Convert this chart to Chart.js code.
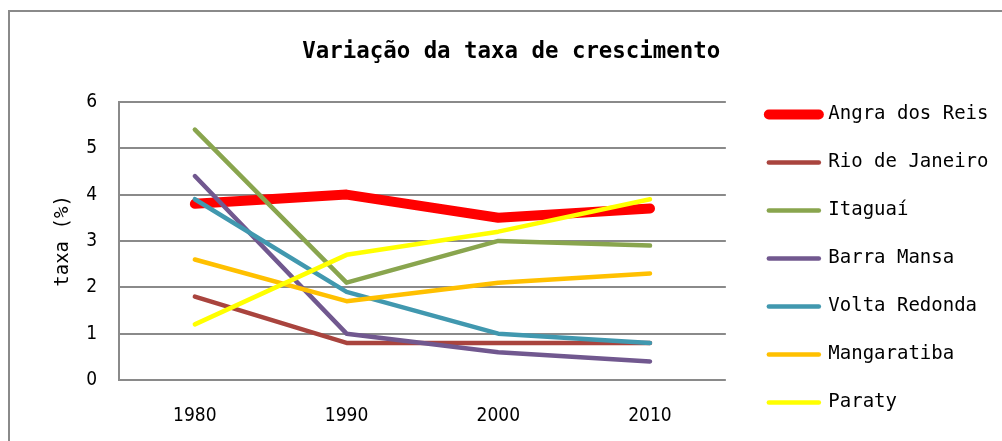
<!DOCTYPE html>
<html>
<head>
<meta charset="utf-8">
<script src="https://cdn.jsdelivr.net/npm/chart.js@4/dist/chart.umd.min.js"></script>
<style>
  html, body { margin: 0; padding: 0; background: #fff; }
  #wrap { position: relative; width: 1002px; height: 441px; overflow: hidden; }
  #frame { position: absolute; left: 8px; top: 10px; width: 1100px; height: 600px;
           border: 2px solid #8a8a8a; box-sizing: border-box; }
  canvas { position: absolute; left: 0; top: 0; }
</style>
</head>
<body>
<div id="wrap">
  <div id="frame"></div>
  <canvas id="c" width="1002" height="441"></canvas>
</div>
<script>
const categories = ['1980', '1990', '2000', '2010'];
const seriesNames = ['Angra dos Reis', 'Rio de Janeiro', 'Itaguaí', 'Barra Mansa', 'Volta Redonda', 'Mangaratiba', 'Paraty'];
const angraDosReis  = [3.8, 4.0, 3.5, 3.7];
const rioDeJaneiro  = [1.8, 0.8, 0.8, 0.8];
const itaguai       = [5.4, 2.1, 3.0, 2.9];
const barraMansa    = [4.4, 1.0, 0.6, 0.4];
const voltaRedonda  = [3.9, 1.9, 1.0, 0.8];
const mangaratiba   = [2.6, 1.7, 2.1, 2.3];
const paraty        = [1.2, 2.7, 3.2, 3.9];
const yTicks = [0, 1, 2, 3, 4, 5, 6];

const seriesValues = [angraDosReis, rioDeJaneiro, itaguai, barraMansa, voltaRedonda, mangaratiba, paraty];
const colors = ['#FF0000', '#A9443E', '#89A54E', '#71588F', '#4198AF', '#FFC000', '#FFFF00'];
const widths = [10, 4.5, 4.5, 4.5, 4.5, 4.5, 4.5];

const datasets = seriesNames.map((name, i) => ({
  label: name,
  data: seriesValues[i],
  yAxisID: 'y',
  xAxisID: 'x',
  borderColor: colors[i],
  backgroundColor: colors[i],
  borderWidth: widths[i],
  borderCapStyle: 'round',
  borderJoinStyle: 'round',
  pointRadius: 0,
  pointHoverRadius: 0,
  tension: 0,
  fill: false,
  order: seriesNames.length - i
}));

const mono = "'DejaVu Sans Mono', monospace";
const tickFont = "'DejaVu Sans Condensed', 'Roboto', sans-serif";

new Chart(document.getElementById('c'), {
  type: 'line',
  data: { labels: categories, datasets },
  options: {
    responsive: false,
    animation: false,
    events: [],
    layout: { padding: { left: 24, right: 3.5, top: 0, bottom: 0 } },
    plugins: {
      title: {
        display: true,
        text: 'Variação da taxa de crescimento',
        color: '#000',
        font: { family: mono, size: 22.4, weight: 'bold' },
        padding: { top: 39, bottom: 36 }
      },
      legend: {
        position: 'right',
        align: 'end',
        maxWidth: 320,
        labels: {
          usePointStyle: true,
          pointStyle: 'line',
          pointStyleWidth: 50,
          boxHeight: 19,
          padding: 29,
          color: '#000',
          font: { family: mono, size: 19 },
          generateLabels: (chart) => Chart.defaults.plugins.legend.labels.generateLabels(chart)
            .map(item => Object.assign(item, { lineCap: 'round' })),
          sort: (a, b) => a.datasetIndex - b.datasetIndex
        }
      },
      tooltip: { enabled: false }
    },
    scales: {
      x: {
        offset: true,
        grid: { display: false, drawTicks: false },
        border: { display: false },
        ticks: { color: '#000', font: { family: tickFont, size: 19 }, padding: 25, maxRotation: 0 },
        afterFit: (s) => { s.height = 61; }
      },
      y: {
        position: 'left',
        min: 0,
        max: 6,
        afterBuildTicks: (axis) => { axis.ticks = yTicks.map(v => ({ value: v })); },
        grid: { color: '#8a8a8a', lineWidth: 2, drawTicks: false },
        border: { display: true, color: '#8a8a8a', width: 2 },
        ticks: { color: '#000', font: { family: tickFont, size: 19 }, padding: 22 },
        title: {
          display: true,
          text: 'taxa (%)',
          color: '#000',
          font: { family: mono, size: 19 },
          padding: { top: 27.6, bottom: 0 }
        },
        afterFit: (s) => { s.width = 95; }
      },
      yRight: {
        axis: 'y',
        type: 'linear',
        position: 'right',
        display: true,
        grid: { display: false, drawTicks: false },
        border: { display: false },
        ticks: { display: false },
        afterFit: (s) => { s.width = 14; }
      }
    }
  }
});
</script>
</body>
</html>
